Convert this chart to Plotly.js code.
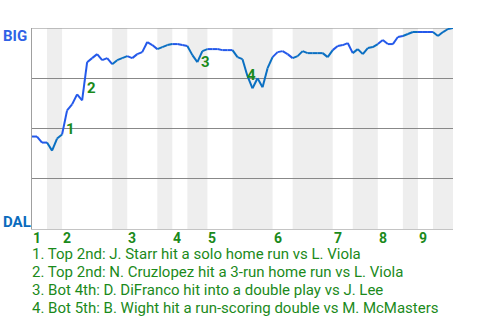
<!DOCTYPE html>
<html>
<head>
<meta charset="utf-8">
<script src="https://cdn.plot.ly/plotly-3.0.1.min.js"></script>
<style>
html,body{margin:0;padding:0;background:#fff;}
#chart{width:480px;height:320px;}
</style>
</head>
<body>
<div id="chart"></div>
<script>
// Win probability for BIG (percent), one value per plate appearance
const wp = [46,46,43,43,39,45,47,59,62,67,64,83,85,87,84,85,82,84,85,86,85,87,88,93,91.5,89.5,90.5,91.5,92,92,91.5,91,86.5,83,88.5,89.5,89.5,89.5,89,89,89,85.5,84.5,76,70,75,70.5,80,85.5,88,88.5,87,85,86,88.5,87.5,87.5,87.5,87.5,85.5,89,91,91.5,92.5,87.5,89.5,87,90,90.5,92,94,92,92,95.5,96,97,98,98,98,98,98,96,98,99.5,100];
// Start of each half inning (plate-appearance index), top/bottom alternating
const halfStarts = [0,3,6,16,19,25,28,31,35,40,48,52,60,64,69,74,77,80];
const gameEnd = 84;
const innings = ['1','2','3','4','5','6','7','8','9'];
const teams = ['BIG','DAL'];
// Key events
const evNum = ['1','2','3','4'];
const evX = [7.6, 11.8, 34.7, 43.7];
const evY = [49.8, 70.1, 83.1, 76.6];
const evText = [
  'Top 2nd: J. Starr hit a solo home run vs L. Viola',
  'Top 2nd: N. Cruzlopez hit a 3-run home run vs L. Viola',
  'Bot 4th: D. DiFranco hit into a double play vs J. Lee',
  'Bot 5th: B. Wight hit a run-scoring double vs M. McMasters'
];

const BIG_C = '#2459ea';
const DAL_C = '#0a6fc2';
const GREEN = '#1b8a1b';
const FONT = 'Roboto, Arial, sans-serif';

const xs = wp.map((_, i) => i);
function halfIndex(x) {
  let h = 0;
  for (let k = 0; k < halfStarts.length; k++) if (x >= halfStarts[k]) h = k;
  return h;
}
const topX = [], topY = [], botX = [], botY = [];
for (let i = 0; i < wp.length - 1; i++) {
  const mid = (xs[i] + xs[i + 1]) / 2;
  const isBot = halfIndex(mid) % 2 === 1;
  const X = isBot ? botX : topX, Y = isBot ? botY : topY;
  X.push(xs[i], xs[i + 1], null);
  Y.push(wp[i], wp[i + 1], null);
}

const traces = [
  {x: topX, y: topY, mode: 'lines', line: {color: BIG_C, width: 2}, hoverinfo: 'skip', connectgaps: false, cliponaxis: false},
  {x: botX, y: botY, mode: 'lines', line: {color: DAL_C, width: 2}, hoverinfo: 'skip', connectgaps: false, cliponaxis: false}
];

const shapes = [];
for (let k = 1; k < halfStarts.length; k += 2) {
  const x1 = k + 1 < halfStarts.length ? halfStarts[k + 1] : gameEnd;
  shapes.push({type: 'rect', xref: 'x', yref: 'paper', x0: halfStarts[k], x1: x1, y0: 0, y1: 1,
    fillcolor: '#eeeeee', line: {width: 0}, layer: 'below'});
}
// top reference line (100%)
shapes.push({type: 'line', xref: 'paper', yref: 'y', x0: 0, x1: 1, y0: 100, y1: 100,
  line: {color: '#888888', width: 1}, layer: 'below'});

const annotations = [];
evNum.forEach((n, i) => {
  annotations.push({x: evX[i], y: evY[i], xref: 'x', yref: 'y', text: '<b>' + n + '</b>', showarrow: false,
    font: {family: FONT, size: 15, color: GREEN}});
  annotations.push({x: 0, y: 0, xref: 'paper', yref: 'paper', xanchor: 'left', yanchor: 'middle',
    xshift: -2, yshift: -(25 + 18 * i), text: n + '. ' + evText[i], showarrow: false,
    font: {family: FONT, size: 15, color: GREEN}});
});
innings.forEach((s, i) => {
  annotations.push({x: halfStarts[2 * i] + 1, y: 0, xref: 'x', yref: 'paper', xanchor: 'center', yanchor: 'middle',
    yshift: -9, text: '<b>' + s + '</b>', showarrow: false, font: {family: FONT, size: 14, color: GREEN}});
});
annotations.push({x: 0, y: 1, xref: 'paper', yref: 'paper', xanchor: 'left', yanchor: 'top', xshift: -31, yshift: 3,
  text: '<b>' + teams[0] + '</b>', showarrow: false, font: {family: FONT, size: 15, color: '#2f62e6'}});
annotations.push({x: 0, y: 0, xref: 'paper', yref: 'paper', xanchor: 'left', yanchor: 'bottom', xshift: -31, yshift: -4,
  text: '<b>' + teams[1] + '</b>', showarrow: false, font: {family: FONT, size: 15, color: '#0a6bbd'}});

const layout = {
  width: 480, height: 320,
  margin: {l: 32, r: 27, t: 28, b: 91},
  paper_bgcolor: '#ffffff', plot_bgcolor: '#ffffff',
  showlegend: false,
  xaxis: {range: [0, gameEnd], showgrid: false, zeroline: false, showline: true, linecolor: '#c4c4c4', linewidth: 1,
    showticklabels: false, ticks: '', fixedrange: true},
  yaxis: {range: [0, 100], tickvals: [25, 50, 75], showticklabels: false, ticks: '', showgrid: true,
    gridcolor: '#888888', gridwidth: 1, zeroline: false, showline: true, linecolor: '#a0a0a0', linewidth: 1, fixedrange: true},
  shapes: shapes,
  annotations: annotations
};

Plotly.newPlot('chart', traces, layout, {displayModeBar: false, staticPlot: true});
</script>
</body>
</html>
